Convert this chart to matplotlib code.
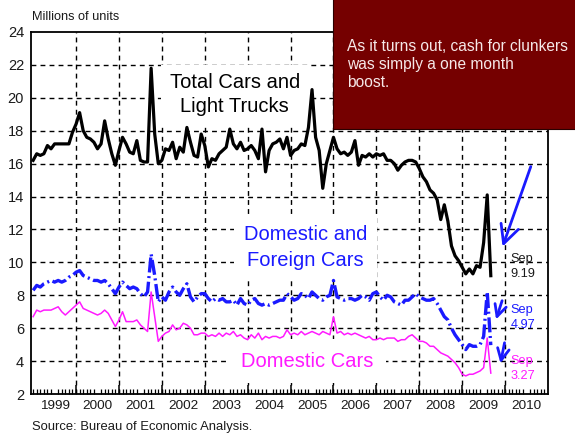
import numpy as np
import pandas as pd
import matplotlib
matplotlib.use("Agg")
import matplotlib.pyplot as plt
from matplotlib.patches import Rectangle

plt.rcParams['font.family'] = ['Liberation Sans', 'DejaVu Sans']

# ---------------------------------------------------------------------
# data: monthly SAAR, millions of units, Jan 1999 .. Sep 2009
# ---------------------------------------------------------------------
months = pd.date_range("1999-01-01", "2009-09-01", freq="MS")

total_cars_trucks = [
    16.2, 16.6, 16.5, 16.6, 17.1, 16.9, 17.2, 17.2, 17.2, 17.2, 17.2, 17.9,
    18.4, 19.1, 18.0, 17.6, 17.5, 17.3, 16.9, 17.2, 18.6, 17.5, 16.6, 15.9,
    16.8, 17.6, 17.2, 16.7, 16.6, 17.4, 16.2, 16.1, 16.1, 21.8, 17.8, 16.0,
    16.2, 16.9, 16.8, 17.3, 16.3, 17.0, 16.7, 18.2, 17.3, 16.5, 16.4, 17.8,
    17.1, 15.8, 16.3, 16.2, 16.6, 16.8, 17.0, 18.1, 17.2, 16.9, 17.3, 16.8,
    16.9, 17.1, 16.8, 16.3, 18.1, 15.5, 16.8, 17.2, 17.3, 17.5, 16.9, 17.6,
    16.5, 16.8, 16.9, 17.2, 17.1, 18.2, 20.5, 17.6, 16.8, 14.5, 16.0, 16.8,
    17.6, 16.9, 16.6, 16.7, 16.5, 16.7, 17.4, 15.9, 16.5, 16.4, 16.6, 16.4,
    16.6, 16.5, 16.6, 16.2, 16.2, 16.0, 15.6, 15.9, 16.1, 16.2, 16.2, 16.1,
    15.7, 15.2, 14.9, 14.4, 14.2, 13.8, 12.6, 13.5, 12.5, 11.0, 10.4, 10.1,
    9.7, 9.3, 9.6, 9.3, 9.8, 9.7, 11.2, 14.1, 9.19,
]

dom_foreign_cars = [
    8.3, 8.6, 8.5, 8.7, 8.8, 8.9, 8.8, 8.9, 8.8, 8.9, 9.1, 9.2,
    9.4, 9.5, 9.2, 9.1, 9.0, 8.9, 8.9, 8.8, 8.9, 8.7, 8.4, 8.1,
    8.5, 8.8, 8.6, 8.4, 8.5, 8.4, 8.1, 7.9, 8.2, 10.5, 9.2, 7.6,
    7.9, 7.7, 8.2, 8.5, 8.2, 8.0, 8.4, 8.7, 7.9, 7.6, 7.9, 8.1,
    8.1, 7.8, 7.6, 7.8, 7.7, 7.8, 7.6, 7.6, 7.7, 7.4, 7.8, 7.5,
    7.4, 7.7, 7.8, 7.5, 7.4, 7.5, 7.4, 7.5, 7.6, 7.7, 7.7, 8.1,
    7.9, 7.7, 7.8, 8.1, 8.0, 7.8, 8.2, 8.0, 7.8, 7.7, 7.9, 8.0,
    8.9, 7.9, 7.8, 7.7, 7.8, 7.8, 7.7, 7.8, 8.0, 7.9, 7.7, 8.1,
    8.2, 7.9, 7.7, 8.0, 7.9, 7.6, 7.5, 7.4, 7.7, 7.7, 7.9, 8.1,
    7.9, 7.8, 7.7, 7.7, 7.8, 7.5, 7.1, 6.7, 6.5, 6.0, 5.6, 5.3,
    5.0, 4.7, 5.0, 4.9, 4.9, 5.0, 5.5, 8.2, 4.97,
]

domestic_cars = [
    6.7, 7.1, 7.0, 7.1, 7.1, 7.1, 7.2, 7.3, 7.0, 6.8, 7.0, 7.2,
    7.4, 7.6, 7.2, 7.1, 7.0, 6.9, 6.8, 6.9, 7.1, 6.9, 6.5, 6.1,
    6.5, 7.0, 6.4, 6.4, 6.4, 6.5, 6.2, 6.0, 5.8, 8.2, 6.7, 5.2,
    5.5, 5.7, 5.8, 6.2, 5.9, 6.0, 6.3, 6.2, 6.0, 5.6, 5.6, 5.7,
    5.7, 5.5, 5.6, 5.5, 5.7, 5.5, 5.7, 5.6, 5.8, 5.5, 5.6, 5.4,
    5.3, 5.6, 5.4, 5.7, 5.3, 5.5, 5.4, 5.5, 5.5, 5.4, 5.5, 5.9,
    5.6, 5.7, 5.6, 5.8, 5.6, 5.7, 5.8, 5.7, 5.6, 5.8, 5.7, 5.6,
    6.7, 5.7, 5.8, 5.6, 5.7, 5.6, 5.7, 5.6, 5.5, 5.4, 5.5, 5.3,
    5.3, 5.4, 5.3, 5.4, 5.4, 5.4, 5.2, 5.3, 5.3, 5.5, 5.6, 5.4,
    5.2, 5.2, 5.1, 4.9, 4.9, 4.7, 4.5, 4.4, 4.3, 4.1, 3.9, 3.6,
    3.2, 3.1, 3.2, 3.2, 3.3, 3.4, 3.6, 5.4, 3.27,
]

year_labels = [str(y) for y in range(1999, 2011)]
y_ticks = list(range(2, 25, 2))

# decimal-year positions for the monthly points
t = months.year + (months.month - 1) / 12.0

BLUE = "#1a1aff"
MAGENTA = "#ff1aff"
TXT = "#1a1a1a"

fig = plt.figure(figsize=(5.75, 4.34), dpi=100)
ax = fig.add_axes([31 / 575, 1 - 394 / 434, 517 / 575, 362 / 434])

ax.set_xlim(1998.95, 2011.0)
ax.set_ylim(2, 24)

# grid
grid_style = dict(color="black", lw=1.0, ls=(0, (3.5, 3)), zorder=1)
for y in y_ticks[1:-1]:
    ax.axhline(y, **grid_style)
for yr in range(2000, 2011):
    ax.axvline(yr, **grid_style)

# series
ax.plot(t, total_cars_trucks, color="black", lw=2.3, zorder=4)
ax.plot(t, dom_foreign_cars, color=BLUE, lw=2.4, ls=(0, (4.5, 1.1, 0.6, 1.1)), zorder=4)
ax.plot(t, domestic_cars, color=MAGENTA, lw=1.1, zorder=4)

# axes styling
for s in ax.spines.values():
    s.set_linewidth(1.3)
ax.set_yticks(y_ticks)
ax.set_yticklabels([str(v) for v in y_ticks], fontsize=10.5, color=TXT)
ax.tick_params(axis="y", length=0, pad=5)

ax.set_xticks([int(l) + 0.5 for l in year_labels])
ax.set_xticklabels(year_labels, fontsize=9.7, color=TXT)
ax.set_xticks(np.arange(1999, 2011, 1 / 12.0), minor=True)
ax.tick_params(axis="x", which="major", length=0, pad=4)
ax.tick_params(axis="x", which="minor", direction="in", length=3.5, width=0.9)
ax.vlines(range(2000, 2011), 0, 0.025, transform=ax.get_xaxis_transform(),
          color="black", lw=1.1, zorder=5)

# series labels (white boxes hide the grid)
ax.text(2003.7, 20.2, "Total Cars and\nLight Trucks", ha="center", va="center",
        fontsize=14.5, linespacing=1.35, color="black", zorder=2,
        bbox=dict(facecolor="white", edgecolor="none", pad=6))
ax.text(2005.35, 10.9, "Domestic and\nForeign Cars", ha="center", va="center",
        fontsize=14.5, linespacing=1.5, color=BLUE, zorder=2,
        bbox=dict(facecolor="white", edgecolor="none", pad=7))
ax.text(2005.38, 4.0, "Domestic Cars", ha="center", va="center",
        fontsize=14.5, color=MAGENTA, zorder=2,
        bbox=dict(facecolor="white", edgecolor="none", pad=9))

# end-point callouts
ax.text(2010.13, 9.74, "Sep\n9.19", ha="left", va="center", fontsize=9.2,
        linespacing=1.3, color=TXT, zorder=6)
ax.text(2010.13, 6.64, "Sep\n4.97", ha="left", va="center", fontsize=9.2,
        linespacing=1.3, color=BLUE, zorder=6)
ax.text(2010.13, 3.54, "Sep\n3.27", ha="left", va="center", fontsize=9.2,
        linespacing=1.3, color=MAGENTA, zorder=6)

ax.annotate("", xy=(2009.92, 10.8), xytext=(2010.62, 15.98),
            arrowprops=dict(arrowstyle="->,head_length=0.6,head_width=0.3",
                            color=BLUE, lw=2.0, mutation_scale=22), zorder=6)
ax.annotate("", xy=(2009.77, 6.37), xytext=(2009.95, 7.83),
            arrowprops=dict(arrowstyle="->,head_length=0.6,head_width=0.3",
                            color=BLUE, lw=2.0, mutation_scale=14), zorder=6)
ax.annotate("", xy=(2009.88, 3.70), xytext=(2010.0, 5.28),
            arrowprops=dict(arrowstyle="->,head_length=0.6,head_width=0.3",
                            color=BLUE, lw=2.0, mutation_scale=14), zorder=6)

# figure texts
fig.text(32 / 575, 1 - 17 / 434, "Millions of units", fontsize=9.2, color=TXT,
         ha="left", va="center")
fig.text(32 / 575, 1 - 427 / 434, "Source: Bureau of Economic Analysis.",
         fontsize=9.4, color=TXT, ha="left", va="center")

# red comment box
fig.patches.append(Rectangle((333 / 575, 1 - 129 / 434), 0.5, 0.5,
                             transform=fig.transFigure, facecolor="#750000",
                             edgecolor="#2a0000", lw=0.8, zorder=10))
fig.text(347 / 575, 1 - 39 / 434,
         "As it turns out, cash for clunkers\nwas simply a one month\nboost.",
         fontsize=11.2, linespacing=1.25, color="#f6e8e8", ha="left", va="top",
         zorder=11)

fig.savefig("out.png", dpi=100)
